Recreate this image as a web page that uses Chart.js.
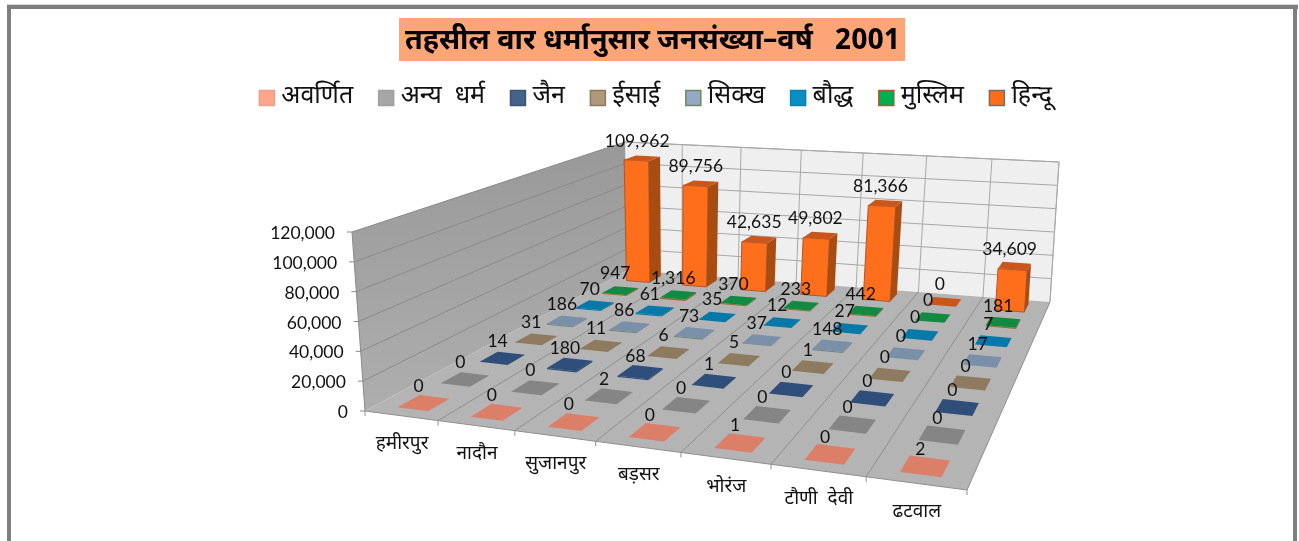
<!DOCTYPE html>
<html><head><meta charset="utf-8">
<style>html,body{margin:0;padding:0;background:#fff}canvas{display:block}</style>
<script src="https://cdn.jsdelivr.net/npm/chart.js@4"></script>
</head><body><canvas id="c" width="1299" height="541"></canvas>
<script>
const categories = ['हमीरपुर','नादौन','सुजानपुर','बड़सर','भोरंज','टौणी  देवी','ढटवाल'];
const seriesNames = ['अवर्णित','अन्य  धर्म','जैन','ईसाई','सिक्ख','बौद्ध','मुस्लिम','हिन्दू'];
const avarnit = [0,0,0,0,1,0,2];
const anya    = [0,0,2,0,0,0,0];
const jain    = [14,180,68,1,0,0,0];
const isai    = [31,11,6,5,1,0,0];
const sikh    = [186,86,73,37,148,0,17];
const bauddh  = [70,61,35,12,27,0,7];
const muslim  = [947,1316,370,233,442,0,181];
const hindu   = [109962,89756,42635,49802,81366,0,34609];
const seriesValues = [avarnit,anya,jain,isai,sikh,bauddh,muslim,hindu];
const legendFill  = ['#FFA58C','#A6A6A6','#44638A','#AE9A7A','#95A9C6','#0A8FC4','#00B050','#FF6B17'];
const legendEdge  = ['#E8A090','#A0A0A0','#3A5578','#8C7A5E','#6E8A5A','#0A7FB0','#B0562A','#707070'];
const topFill     = ['#DB7F68','#858585','#2F4F7A','#8E7A5E','#7A8FA8','#0779A8','#118A42','#C9561A'];
const frontFill   = ['#DB7F68','#858585','#2F4F7A','#8E7A5E','#6F8A70','#0779A8','#A8682A','#FF6E1A'];
const sideFill    = ['#C87058','#777777','#27436A','#7C6A50','#6A7E96','#066A94','#8E5A22','#A84C12'];

const FONT = 'Lato, "Noto Sans", "Noto Sans Devanagari", sans-serif';
const DEVA = '"Noto Sans Devanagari", "Noto Sans", Lato, sans-serif';

// Plot box: screen corners of the 3D axes box (front-left, front-right, back-right, back-left)
const floorBox = [[365,411],[967,490],[1050,302],[628,270]];
const topBox   = [[352,232],[978,276],[1059,162],[625,142]];
function homography(q){
  const [p0,p1,p2,p3]=q;
  const dx1=p1[0]-p2[0],dx2=p3[0]-p2[0],sx=p0[0]-p1[0]+p2[0]-p3[0];
  const dy1=p1[1]-p2[1],dy2=p3[1]-p2[1],sy=p0[1]-p1[1]+p2[1]-p3[1];
  const den=dx1*dy2-dx2*dy1;
  const g=(sx*dy2-dx2*sy)/den,h=(dx1*sy-sx*dy1)/den;
  const a=p1[0]-p0[0]+g*p1[0],b=p3[0]-p0[0]+h*p3[0],c=p0[0];
  const d=p1[1]-p0[1]+g*p1[1],e=p3[1]-p0[1]+h*p3[1],f=p0[1];
  return (u,v)=>{const k=g*u+h*v+1;return [(a*u+b*v+c)/k,(d*u+e*v+f)/k];};
}
const floorH=homography(floorBox),topH=homography(topBox);
function project(u,v,w){
  const F=floorH(u,v),T=topH(u,v);
  return [F[0]+(T[0]-F[0])*w,F[1]+(T[1]-F[1])*w];
}
function quad(ctx,pts,fill,stroke){
  ctx.beginPath();ctx.moveTo(pts[0][0],pts[0][1]);
  for(let i=1;i<pts.length;i++)ctx.lineTo(pts[i][0],pts[i][1]);
  ctx.closePath();
  if(fill){ctx.fillStyle=fill;ctx.fill();}
  if(stroke){ctx.strokeStyle=stroke;ctx.lineWidth=1;ctx.stroke();}
}
const BAR_U=0.42, BAR_V=0.5;
function dec(scale,value){return scale.getDecimalForPixel(scale.getPixelForValue(value));}

class Bar3DController extends Chart.BarController{
  draw(){
    const chart=this.chart,ctx=chart.ctx,meta=this._cachedMeta;
    const ds=meta.index,xS=chart.scales.x,yS=chart.scales.y,zS=chart.scales.depth;
    const cw=1/xS.ticks.length,dw=1/zS.ticks.length;
    const vc=dec(zS,ds);
    ctx.save();
    const parsed=meta._parsed;
    for(let i=parsed.length-1;i>=0;i--){
      const uc=dec(xS,i),w=dec(yS,parsed[i].y);
      const u0=uc-cw*BAR_U/2,u1=uc+cw*BAR_U/2,v0=vc-dw*BAR_V/2,v1=vc+dw*BAR_V/2;
      if(w>0.0005){
        const h=Math.max(w,0.007);
        quad(ctx,[project(u0,v0,0),project(u1,v0,0),project(u1,v0,h),project(u0,v0,h)],frontFill[ds],w>0.05?'#B0562A':null);
        quad(ctx,[project(u1,v0,0),project(u1,v1,0),project(u1,v1,h),project(u1,v0,h)],sideFill[ds]);
        quad(ctx,[project(u0,v0,h),project(u1,v0,h),project(u1,v1,h),project(u0,v1,h)],topFill[ds]);
      } else {
        quad(ctx,[project(u0,v0,0),project(u1,v0,0),project(u1,v1,0),project(u0,v1,0)],topFill[ds]);
      }
    }
    ctx.restore();
  }
}
Bar3DController.id='bar3d';
Bar3DController.defaults=Chart.BarController.defaults;
Chart.register(Bar3DController);

const framePlugin={id:'frame',
  afterLayout(chart){ const l=chart.legend; l.left+=6; l.right+=6; l.top-=6; l.bottom-=6; },
  beforeDraw(chart){
    const c=chart.ctx;c.save();
    c.fillStyle='#fff';c.fillRect(0,0,1299,541);
    c.fillStyle='#D8D8D8';c.fillRect(7,4,1291,1);
    c.fillStyle='#7F7F7F';c.fillRect(7,5,1291,4);c.fillRect(7,5,4,536);c.fillRect(1293,5,4,536);
    c.fillStyle='#FCA677';c.fillRect(399,18,506,43);
    c.restore();
  }
};
const wallsPlugin={id:'walls',
  beforeDatasetsDraw(chart){
    const c=chart.ctx,xS=chart.scales.x,yS=chart.scales.y;
    const nCat=categories.length;
    c.save();
    quad(c,[project(0,1,0),project(1,1,0),project(1,1,1),project(0,1,1)],'#EFEFEF');
    const g=c.createLinearGradient(0,142,0,411);g.addColorStop(0,'#999999');g.addColorStop(1,'#AEAEAE');
    quad(c,[project(0,0,0),project(0,1,0),project(0,1,1),project(0,0,1)],g);
    quad(c,[project(0,0,0),project(1,0,0),project(1,1,0),project(0,1,0)],'#B4B4B4');
    const line=(a,b,col)=>{c.strokeStyle=col;c.lineWidth=1;c.beginPath();c.moveTo(a[0],a[1]);c.lineTo(b[0],b[1]);c.stroke();};
    c.textBaseline='middle';
    yS.ticks.forEach(t=>{
      const w=dec(yS,t.value);
      if(w>0){
        line(project(0,0,w),project(0,1,w),'#8A8A8A');
        line(project(0,1,w),project(1,1,w),'#A8A8A8');
      }
      const p=project(0,0,w);
      line([p[0]-5,p[1]],p,'#8A8A8A');
      c.fillStyle='#111';c.font='17.5px '+FONT;c.textAlign='right';
      c.fillText(t.value.toLocaleString('en-US'),p[0]-17,p[1]+1.5);
    });
    line(project(0,1,1),project(1,1,1),'#A8A8A8');
    line(project(1,1,0),project(1,1,1),'#B0B0B0');
    line(project(0,0,0),project(0,0,1),'#8A8A8A');
    line(project(0,0,0),project(1,0,0),'#8F8F8F');
    for(let i=0;i<=nCat;i++){
      const u=i/nCat;
      if(i>0){
        line(project(u,1,0),project(u,1,1),'#A8A8A8');
        line(project(u,0,0),project(u,1,0),'#8F8F8F');
      }
      const p=project(u,0,0);
      line(p,[p[0],p[1]+5],'#8F8F8F');
    }
    xS.ticks.forEach((t,i)=>{
      const p=project(dec(xS,i),0,0);
      c.fillStyle='#111';c.font='19px '+DEVA;c.textAlign='center';
      c.fillText(categories[i],p[0]+1,p[1]+30);
    });
    c.restore();
  },
  afterDatasetsDraw(chart){
    const c=chart.ctx,xS=chart.scales.x,yS=chart.scales.y,zS=chart.scales.depth;
    c.save();c.fillStyle='#111';c.font='17.5px '+FONT;c.textAlign='center';c.textBaseline='middle';
    for(let ds=seriesValues.length-1;ds>=0;ds--){
      seriesValues[ds].forEach((val,i)=>{
        const p=project(dec(xS,i),dec(zS,ds),dec(yS,val));
        c.fillText(val.toLocaleString('en-US'),p[0]-5,p[1]-17);
      });
    }
    c.restore();
  }
};
new Chart(document.getElementById('c'),{
  type:'bar3d',
  data:{labels:categories,datasets:seriesNames.map((n,i)=>({label:n,data:seriesValues[i],backgroundColor:legendFill[i],borderColor:legendEdge[i],borderWidth:1.5}))},
  options:{responsive:false,animation:false,
    layout:{padding:{top:22,left:6}},
    plugins:{
      title:{display:true,text:'तहसील वार धर्मानुसार जनसंख्या–वर्ष   2001',color:'#000',font:{family:DEVA,size:28.7,weight:'bold'},padding:{top:4,bottom:0}},
      legend:{display:true,position:'top',labels:{color:'#111',font:{family:DEVA,size:25},usePointStyle:true,pointStyle:'rect',boxWidth:4,boxHeight:15,padding:31}},
      tooltip:{enabled:false}
    },
    scales:{
      x:{type:'category',display:false,offset:true},
      y:{type:'linear',display:false,min:0,max:120000,ticks:{stepSize:20000}},
      depth:{type:'category',axis:'y',display:false,offset:true,labels:seriesNames}
    }
  },
  plugins:[framePlugin,wallsPlugin]
});
</script></body></html>
